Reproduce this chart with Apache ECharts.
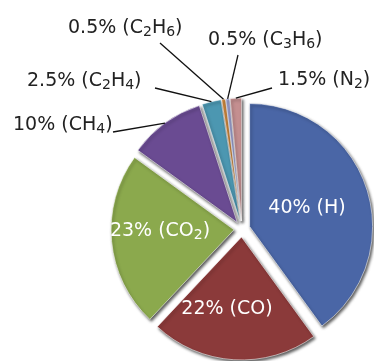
<!DOCTYPE html>
<html>
<head>
<meta charset="utf-8">
<script src="https://cdn.jsdelivr.net/npm/echarts@6/dist/echarts.min.js"></script>
<style>
  html, body { margin: 0; padding: 0; background: #fff; }
  #chart { width: 374px; height: 361px; }
</style>
</head>
<body>
<div id="chart"></div>
<script>
// Gas composition (vol. %), clockwise from 12 o'clock
const gases = ['H', 'CO', 'CO2', 'CH4', 'C2H4', 'C2H6', 'C3H6', 'N2'];
const shares = [40, 22, 23, 10, 2.5, 0.5, 0.5, 1.5];
const sliceColors = ['#4A66A6', '#8B3A3A', '#8BA94D', '#6A4B92', '#4C97B1', '#D38B3F', '#9DA2D2', '#C48F90'];

// Where each label sits; outside labels also get the far end of their leader line
const labelSpots = [
  { x: 307, y: 208, align: 'center', color: '#fff' },
  { x: 227, y: 309, align: 'center', color: '#fff' },
  { x: 160, y: 231, align: 'center', color: '#fff' },
  { x: 13,  y: 125, align: 'left', color: '#222', end: [113, 132] },
  { x: 27,  y: 81,  align: 'left', color: '#222', end: [155, 88] },
  { x: 68,  y: 28,  align: 'left', color: '#222', end: [160, 43] },
  { x: 208, y: 40,  align: 'left', color: '#222', end: [238, 55] },
  { x: 278, y: 80,  align: 'left', color: '#222', end: [272, 88] }
];

const insideCount = 3;
const pieCenter = [242, 229];
const pieRadius = 123;
const explode = 8;

// chemical formula -> rich text with subscript digits
function formula(name) {
  return name.replace(/(\d)/g, '{s|$1}');
}

// exploded slices (no labels)
const sliceData = gases.map((g, i) => ({
  name: g,
  value: shares[i],
  selected: true,
  itemStyle: { color: sliceColors[i] }
}));

// label layer: same slices, invisible, reaching out to the exploded rim
const labelData = gases.map((g, i) => ({
  name: g,
  value: shares[i],
  label: {
    position: i < insideCount ? 'inside' : 'outside',
    color: labelSpots[i].color,
    rich: {
      s: { fontSize: 14, color: labelSpots[i].color, padding: [9, 0, 0, 0], fontFamily: 'DejaVu Sans' }
    }
  },
  labelLine: { show: i >= insideCount }
}));

const chart = echarts.init(document.getElementById('chart'), null, { renderer: 'canvas' });
chart.setOption({
  animation: false,
  backgroundColor: '#fff',
  series: [{
    type: 'pie',
    z: 2,
    center: pieCenter,
    radius: [0, pieRadius],
    startAngle: 90,
    clockwise: true,
    selectedMode: 'multiple',
    selectedOffset: explode,
    silent: true,
    label: { show: false },
    labelLine: { show: false },
    data: sliceData,
    itemStyle: {
      borderColor: 'rgba(255,255,255,0.55)',
      borderWidth: 1,
      shadowColor: 'rgba(0,0,0,0.65)',
      shadowBlur: 3,
      shadowOffsetX: 1.5,
      shadowOffsetY: 2
    }
  }, {
    type: 'pie',
    z: 5,
    center: pieCenter,
    radius: [0, pieRadius + explode],
    startAngle: 90,
    clockwise: true,
    silent: true,
    avoidLabelOverlap: false,
    data: labelData,
    itemStyle: { color: 'rgba(0,0,0,0)', borderWidth: 0 },
    emphasis: { disabled: true },
    label: {
      fontFamily: 'DejaVu Sans',
      fontSize: 19,
      formatter: p => p.value + '% (' + formula(p.name) + ')'
    },
    labelLine: {
      lineStyle: { color: '#111', width: 1.3 }
    },
    labelLayout: function (p) {
      const s = labelSpots[p.dataIndex];
      const out = { x: s.x, y: s.y, align: s.align, verticalAlign: 'middle' };
      if (s.end && p.labelLinePoints) {
        out.labelLinePoints = [p.labelLinePoints[0], s.end];
      }
      return out;
    }
  }]
});
</script>
</body>
</html>
